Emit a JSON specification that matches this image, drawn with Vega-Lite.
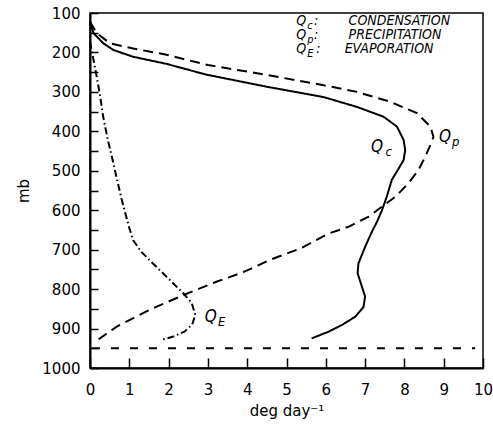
{
  "$schema": "https://vega.github.io/schema/vega-lite/v6.json",
  "width": 393,
  "height": 355,
  "autosize": {"type": "none"},
  "padding": {"left": 90, "top": 13, "right": 10, "bottom": 62},
  "background": "white",
  "config": {
    "view": {"stroke": "black", "strokeWidth": 1.5},
    "font": "DejaVu Sans",
    "axis": {
      "domainColor": "black",
      "domainWidth": 2,
      "tickColor": "black",
      "tickWidth": 1.5,
      "labelColor": "black",
      "labelFont": "DejaVu Sans",
      "labelFontSize": 15,
      "labelOverlap": false,
      "titleColor": "black",
      "titleFont": "DejaVu Sans",
      "titleFontSize": 15,
      "titleFontWeight": "normal",
      "grid": false
    }
  },
  "datasets": {
    "curves": [
      {"s": "Qc", "i": 0, "x": 0, "p": 122},
      {"s": "Qc", "i": 1, "x": 0.09, "p": 151},
      {"s": "Qc", "i": 2, "x": 0.34, "p": 177},
      {"s": "Qc", "i": 3, "x": 0.6, "p": 194},
      {"s": "Qc", "i": 4, "x": 1.1, "p": 211},
      {"s": "Qc", "i": 5, "x": 1.95, "p": 229},
      {"s": "Qc", "i": 6, "x": 2.95, "p": 256},
      {"s": "Qc", "i": 7, "x": 4.5, "p": 287},
      {"s": "Qc", "i": 8, "x": 5.94, "p": 313},
      {"s": "Qc", "i": 9, "x": 6.79, "p": 338},
      {"s": "Qc", "i": 10, "x": 7.47, "p": 363},
      {"s": "Qc", "i": 11, "x": 7.81, "p": 388},
      {"s": "Qc", "i": 12, "x": 7.98, "p": 422},
      {"s": "Qc", "i": 13, "x": 8.02, "p": 447},
      {"s": "Qc", "i": 14, "x": 7.98, "p": 473},
      {"s": "Qc", "i": 15, "x": 7.85, "p": 495},
      {"s": "Qc", "i": 16, "x": 7.68, "p": 523},
      {"s": "Qc", "i": 17, "x": 7.55, "p": 566},
      {"s": "Qc", "i": 18, "x": 7.43, "p": 600},
      {"s": "Qc", "i": 19, "x": 7.3, "p": 630},
      {"s": "Qc", "i": 20, "x": 7.17, "p": 655},
      {"s": "Qc", "i": 21, "x": 7.0, "p": 693},
      {"s": "Qc", "i": 22, "x": 6.83, "p": 735},
      {"s": "Qc", "i": 23, "x": 6.81, "p": 760},
      {"s": "Qc", "i": 24, "x": 6.92, "p": 794},
      {"s": "Qc", "i": 25, "x": 7.0, "p": 819},
      {"s": "Qc", "i": 26, "x": 6.96, "p": 845},
      {"s": "Qc", "i": 27, "x": 6.75, "p": 870},
      {"s": "Qc", "i": 28, "x": 6.41, "p": 891},
      {"s": "Qc", "i": 29, "x": 6.07, "p": 908},
      {"s": "Qc", "i": 30, "x": 5.64, "p": 925},
      {"s": "Qp", "i": 0, "x": 0, "p": 122},
      {"s": "Qp", "i": 1, "x": 0.17, "p": 151},
      {"s": "Qp", "i": 2, "x": 0.51, "p": 177},
      {"s": "Qp", "i": 3, "x": 1.1, "p": 190},
      {"s": "Qp", "i": 4, "x": 1.95, "p": 206},
      {"s": "Qp", "i": 5, "x": 3.0, "p": 232},
      {"s": "Qp", "i": 6, "x": 4.5, "p": 257},
      {"s": "Qp", "i": 7, "x": 5.94, "p": 283},
      {"s": "Qp", "i": 8, "x": 6.79, "p": 300},
      {"s": "Qp", "i": 9, "x": 7.64, "p": 325},
      {"s": "Qp", "i": 10, "x": 8.32, "p": 354},
      {"s": "Qp", "i": 11, "x": 8.66, "p": 388},
      {"s": "Qp", "i": 12, "x": 8.74, "p": 414},
      {"s": "Qp", "i": 13, "x": 8.66, "p": 435},
      {"s": "Qp", "i": 14, "x": 8.53, "p": 464},
      {"s": "Qp", "i": 15, "x": 8.36, "p": 498},
      {"s": "Qp", "i": 16, "x": 8.1, "p": 532},
      {"s": "Qp", "i": 17, "x": 7.77, "p": 566},
      {"s": "Qp", "i": 18, "x": 7.43, "p": 591},
      {"s": "Qp", "i": 19, "x": 7.09, "p": 616},
      {"s": "Qp", "i": 20, "x": 6.58, "p": 642},
      {"s": "Qp", "i": 21, "x": 6.07, "p": 659},
      {"s": "Qp", "i": 22, "x": 5.4, "p": 695},
      {"s": "Qp", "i": 23, "x": 4.6, "p": 725},
      {"s": "Qp", "i": 24, "x": 3.9, "p": 757},
      {"s": "Qp", "i": 25, "x": 3.2, "p": 782},
      {"s": "Qp", "i": 26, "x": 2.38, "p": 815},
      {"s": "Qp", "i": 27, "x": 1.53, "p": 852},
      {"s": "Qp", "i": 28, "x": 0.68, "p": 895},
      {"s": "Qp", "i": 29, "x": 0.22, "p": 927},
      {"s": "QE", "i": 0, "x": 0, "p": 173},
      {"s": "QE", "i": 1, "x": 0.09, "p": 219},
      {"s": "QE", "i": 2, "x": 0.17, "p": 261},
      {"s": "QE", "i": 3, "x": 0.26, "p": 312},
      {"s": "QE", "i": 4, "x": 0.33, "p": 360},
      {"s": "QE", "i": 5, "x": 0.45, "p": 420},
      {"s": "QE", "i": 6, "x": 0.57, "p": 470},
      {"s": "QE", "i": 7, "x": 0.69, "p": 523},
      {"s": "QE", "i": 8, "x": 0.8, "p": 570},
      {"s": "QE", "i": 9, "x": 0.9, "p": 608},
      {"s": "QE", "i": 10, "x": 1.0, "p": 645},
      {"s": "QE", "i": 11, "x": 1.1, "p": 676},
      {"s": "QE", "i": 12, "x": 1.3, "p": 705},
      {"s": "QE", "i": 13, "x": 1.53, "p": 728},
      {"s": "QE", "i": 14, "x": 1.95, "p": 769},
      {"s": "QE", "i": 15, "x": 2.38, "p": 811},
      {"s": "QE", "i": 16, "x": 2.59, "p": 836},
      {"s": "QE", "i": 17, "x": 2.68, "p": 865},
      {"s": "QE", "i": 18, "x": 2.6, "p": 890},
      {"s": "QE", "i": 19, "x": 2.4, "p": 908},
      {"s": "QE", "i": 20, "x": 2.1, "p": 921},
      {"s": "QE", "i": 21, "x": 1.8, "p": 929},
      {"s": "base", "i": 0, "x": 0.05, "p": 950},
      {"s": "base", "i": 1, "x": 9.8, "p": 950}
    ],
    "notes": [
      {"role": "leg", "t": "Q", "x": 5.25, "p": 120},
      {"role": "legsub", "t": "c", "x": 5.53, "p": 120},
      {"role": "leg", "t": ":", "x": 5.7, "p": 120},
      {"role": "leg", "t": "CONDENSATION", "x": 6.58, "p": 120},
      {"role": "leg", "t": "Q", "x": 5.25, "p": 156},
      {"role": "legsub", "t": "p", "x": 5.53, "p": 156},
      {"role": "leg", "t": ":", "x": 5.7, "p": 156},
      {"role": "leg", "t": "PRECIPITATION", "x": 6.58, "p": 156},
      {"role": "leg", "t": "Q", "x": 5.25, "p": 191},
      {"role": "legsub", "t": "E", "x": 5.53, "p": 191},
      {"role": "leg", "t": ":", "x": 5.76, "p": 191},
      {"role": "leg", "t": "EVAPORATION", "x": 6.48, "p": 191},
      {"role": "lab", "t": "Q", "x": 7.15, "p": 440},
      {"role": "labsub", "t": "c", "x": 7.52, "p": 440},
      {"role": "lab", "t": "Q", "x": 8.88, "p": 414},
      {"role": "labsub", "t": "p", "x": 9.21, "p": 414},
      {"role": "lab", "t": "Q", "x": 2.92, "p": 871},
      {"role": "labsub", "t": "E", "x": 3.26, "p": 871}
    ]
  },
  "encoding": {
    "x": {
      "field": "x",
      "type": "quantitative",
      "scale": {"domain": [0, 10], "nice": false, "zero": false},
      "axis": {
        "values": [0, 1, 2, 3, 4, 5, 6, 7, 8, 9, 10],
        "tickSize": -10,
        "labelPadding": 24,
        "labelFlush": false,
        "labelOverlap": false,
        "title": "deg day⁻¹",
        "titlePadding": 6
      }
    },
    "y": {
      "field": "p",
      "type": "quantitative",
      "scale": {"domain": [100, 1000], "reverse": true, "nice": false, "zero": false},
      "axis": {
        "values": [100, 150, 200, 250, 300, 350, 400, 450, 500, 550, 600, 650, 700, 750, 800, 850, 900, 950, 1000],
        "format": "d",
        "labelExpr": "datum.value % 100 === 0 ? datum.label : ''",
        "tickSize": -8,
        "labelPadding": 18,
        "labelFlush": false,
        "labelOverlap": false,
        "title": "mb",
        "titlePadding": 10
      }
    }
  },
  "layer": [
    {
      "data": {"name": "curves"},
      "mark": {"type": "line", "strokeWidth": 2, "color": "black"},
      "encoding": {
        "detail": {"field": "s", "type": "nominal"},
        "strokeDash": {
          "field": "s",
          "type": "nominal",
          "scale": {"domain": ["Qc", "Qp", "QE", "base"], "range": [[1, 0], [10, 6], [7, 3, 1.5, 3], [8, 11]]},
          "legend": null
        },
        "order": {"field": "i", "type": "quantitative"}
      }
    },
    {
      "data": {"name": "notes"},
      "transform": [{"filter": "datum.role === 'leg'"}],
      "mark": {"type": "text", "align": "left", "baseline": "middle", "fontStyle": "italic", "fontSize": 14, "font": "Liberation Sans Narrow, DejaVu Sans Condensed, DejaVu Sans", "color": "black"},
      "encoding": {"text": {"field": "t"}}
    },
    {
      "data": {"name": "notes"},
      "transform": [{"filter": "datum.role === 'legsub'"}],
      "mark": {"type": "text", "align": "left", "baseline": "middle", "fontStyle": "italic", "fontSize": 11, "dy": 5, "font": "Liberation Sans Narrow, DejaVu Sans Condensed, DejaVu Sans", "color": "black"},
      "encoding": {"text": {"field": "t"}}
    },
    {
      "data": {"name": "notes"},
      "transform": [{"filter": "datum.role === 'lab'"}],
      "mark": {"type": "text", "align": "left", "baseline": "middle", "fontStyle": "italic", "fontSize": 17, "font": "Liberation Sans Narrow, DejaVu Sans Condensed, DejaVu Sans", "color": "black"},
      "encoding": {"text": {"field": "t"}}
    },
    {
      "data": {"name": "notes"},
      "transform": [{"filter": "datum.role === 'labsub'"}],
      "mark": {"type": "text", "align": "left", "baseline": "middle", "fontStyle": "italic", "fontSize": 13, "dy": 5, "font": "Liberation Sans Narrow, DejaVu Sans Condensed, DejaVu Sans", "color": "black"},
      "encoding": {"text": {"field": "t"}}
    }
  ]
}
